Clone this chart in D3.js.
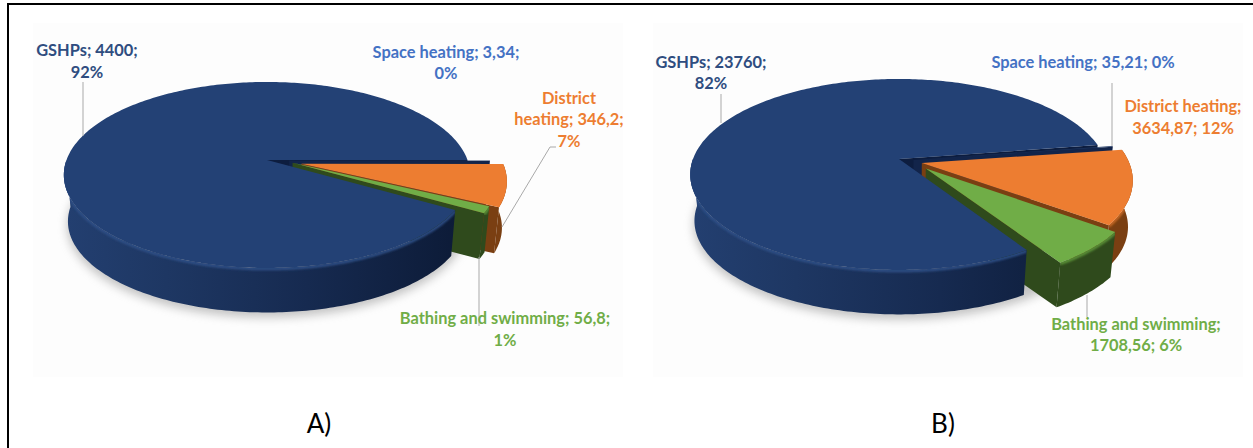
<!DOCTYPE html>
<html><head><meta charset="utf-8">
<script src="https://cdn.jsdelivr.net/npm/d3@7"></script>
<style>html,body{margin:0;padding:0;background:#fff}svg{display:block}text{font-family:Lato,sans-serif}</style>
</head><body><svg id="c" width="1253" height="448"></svg>
<script>
const categories = ["Space heating", "District heating", "Bathing and swimming", "GSHPs"];
const valuesA = [3.34, 346.2, 56.8, 4400];
const valuesB = [35.21, 3634.87, 1708.56, 23760];
// how far each slice is pulled out of the disc (unit radius): [right, toward viewer]
const pullA = [[0.11,0.005],[0.17,0.04],[0.127,0.03],[0,0]];
const pullB = [[0.07,0.01],[0.11,0.043],[0.128,0.10],[0,0]];

const topColors = ["#1f3864", "#ed7d31", "#70ad47", "#234175"];
const sideColors = ["#12244a", "#7a3f12", "#2f4a1c", "#16294f"];
const labelColors = {navy:"#2f4d80", blue:"#4472c4", orange:"#ed7d31", green:"#70ad47"};

const charts = [
  {values:valuesA, pull:pullA, startDeg:90, x0:267, y0:160, a:200.5, b:90.6, p:0.161, h:47,
   caption:{t:"A)",x:319,y:433},
   labels:[
    {c:"navy",x:87,ys:[50,72],t:["GSHPs; 4400;","92%"]},
    {c:"blue",x:446,ys:[52,73],t:["Space heating; 3,34;","0%"]},
    {c:"orange",x:569,ys:[98,119,141],t:["District","heating; 346,2;","7%"]},
    {c:"green",x:505,ys:[318,340],t:["Bathing and swimming; 56,8;","1%"]}],
   leaders:[[[83,136],[83,82]],[[479,257],[479,326]],[[502,227],[550,147],[556,147]]]},
  {values:valuesB, pull:pullB, startDeg:81.2, x0:899, y0:159, a:206, b:93, p:0.162, h:47,
   caption:{t:"B)",x:943,y:433},
   labels:[
    {c:"navy",x:711,ys:[62,83],t:["GSHPs; 23760;","82%"]},
    {c:"blue",x:1083,ys:[62],t:["Space heating; 35,21; 0%"]},
    {c:"orange",x:1183,ys:[106,128],t:["District heating;","3634,87; 12%"]},
    {c:"green",x:1136,ys:[324,345],t:["Bathing and swimming;","1708,56; 6%"]}],
   leaders:[[[721,123],[721,94]],[[1112,83],[1112,146]],[[1087,295],[1087,317]]]}
];

const svg = d3.select("#c");
const defs = svg.append("defs");
defs.append("filter").attr("id","shadow").attr("x","-20%").attr("y","-20%").attr("width","140%").attr("height","140%")
  .append("feGaussianBlur").attr("stdDeviation",5);
defs.append("filter").attr("id","soft").attr("x","-5%").attr("y","-5%").attr("width","110%").attr("height","110%")
  .append("feGaussianBlur").attr("stdDeviation",1.2);

svg.append("rect").attr("width",1253).attr("height",448).attr("fill","#fff");
svg.append("rect").attr("x",33).attr("y",23).attr("width",590).attr("height",354).attr("fill","#fdfdfd");
svg.append("rect").attr("x",653).attr("y",23).attr("width",590).attr("height",354).attr("fill","#fdfdfd");

const line = d3.line();
const deg = Math.PI/180;
let clipN = 0;

charts.forEach((ch,ci)=>{
  const pie = d3.pie().sort(null).startAngle(ch.startDeg*deg).endAngle(ch.startDeg*deg+2*Math.PI);
  const arcs = pie(ch.values);
  const g = svg.append("g");
  const proj = (X,Y,Z)=>{
    const w = 1/(1-ch.p*Y+0.02*Z);
    return [ch.x0+ch.a*X*w, ch.y0+ch.b*Y*w+ch.h*Z];
  };
  const rimPt=(ang,dx,dy,Z)=>proj(Math.sin(ang)+dx,-Math.cos(ang)+dy,Z);
  const rim=(s,e,dx,dy,Z)=>{
    const n=Math.max(2,Math.ceil((e-s)/(1*deg)));
    return d3.range(n+1).map(i=>rimPt(s+(e-s)*i/n,dx,dy,Z));
  };
  // soft ground shadow
  const sh = rim(0,2*Math.PI,0,0.03,1.03);
  g.append("path").attr("d",line(sh)+"Z").attr("fill","#8a8a8a").attr("opacity",0.5).attr("filter","url(#shadow)");

  const gradId="side"+ci;
  const gr=defs.append("linearGradient").attr("id",gradId).attr("gradientUnits","userSpaceOnUse")
    .attr("x1",ch.x0-ch.a).attr("x2",ch.x0+ch.a).attr("y1",0).attr("y2",0);
  [[0,"#233f70"],[0.25,"#1e3763"],[0.6,"#162a50"],[1,"#0c1a36"]].forEach(s=>gr.append("stop").attr("offset",s[0]).attr("stop-color",s[1]));

  const navy=3;
  const drawWall=(ang,dx,dy,fill)=>{
    const pts=[proj(dx,dy,0),rimPt(ang,dx,dy,0),rimPt(ang,dx,dy,1),proj(dx,dy,1)];
    g.append("path").attr("d",line(pts)+"Z").attr("fill",fill);
  };
  const drawSide=(s,e,dx,dy,fill,bevel)=>{
    const t=rim(s,e,dx,dy,0), b=rim(s,e,dx,dy,1).reverse();
    const d=line(t.concat(b))+"Z";
    g.append("path").attr("d",d).attr("fill",fill);
    if(bevel){
      const id="clip"+(clipN++);
      defs.append("clipPath").attr("id",id).append("path").attr("d",d);
      g.append("path").attr("d",line(rim(s,e,dx,dy,0.02))).attr("fill","none")
        .attr("stroke",bevel).attr("stroke-width",3).attr("filter","url(#soft)").attr("clip-path","url(#"+id+")");
    }
  };
  const drawTop=(s,e,dx,dy,fill)=>{
    const pts=[proj(dx,dy,0)].concat(rim(s,e,dx,dy,0));
    g.append("path").attr("d",line(pts)+"Z").attr("fill",fill);
  };

  // far wall of the cut in the navy slice, seen through the gap
  drawWall(arcs[navy].endAngle,0,0,"#0d1d3f");

  // pulled-out slices, back to front
  [0,1,2].forEach(i=>{
    const a=arcs[i],[dx,dy]=ch.pull[i];
    drawWall(a.endAngle,dx,dy,sideColors[i]);
    drawSide(a.startAngle,a.endAngle,dx,dy,sideColors[i],i==1?"#c96a25":i==2?"#5c9339":null);
    drawTop(a.startAngle,a.endAngle,dx,dy,topColors[i]);
  });

  // navy body on top: only the front of its rim (up to the leftmost point) shows a side
  const a=arcs[navy];
  drawSide(a.startAngle,270*deg,0,0,"url(#"+gradId+")","#2f4f86");
  drawTop(a.startAngle,a.endAngle,0,0,topColors[navy]);

  // leaders
  ch.leaders.forEach(l=>{
    g.append("path").attr("d",line(l)).attr("fill","none").attr("stroke","#a9a9a9").attr("stroke-width",1);
  });
  // labels
  ch.labels.forEach(l=>{
    l.t.forEach((t,i)=>{
      g.append("text").attr("x",l.x).attr("y",l.ys[i]+5.5).attr("text-anchor","middle")
        .attr("font-size",16.4).attr("font-weight",700).attr("fill",labelColors[l.c]).text(t);
    });
  });
  g.append("text").attr("x",ch.caption.x).attr("y",ch.caption.y).attr("text-anchor","middle")
    .attr("font-size",26).attr("fill","#000").text(ch.caption.t);
});

// frame: top and left rules only
svg.append("path").attr("d",line([[8,448],[8,4],[1253,4]])).attr("fill","none").attr("stroke","#000").attr("stroke-width",2);
</script></body></html>
